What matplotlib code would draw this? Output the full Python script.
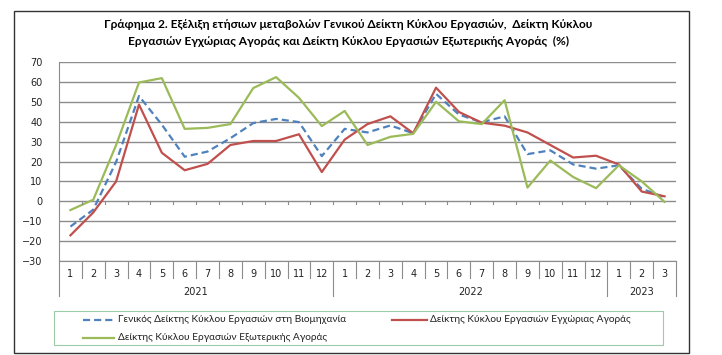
import numpy as np
import matplotlib
matplotlib.use("Agg")
import matplotlib.pyplot as plt
from matplotlib.patches import Rectangle
from matplotlib.lines import Line2D
import matplotlib.transforms as mtransforms

plt.rcParams['font.family'] = ['DejaVu Sans']

# δεδομένα (ετήσιες μεταβολές %)
months = ['1', '2', '3', '4', '5', '6', '7', '8', '9', '10', '11', '12',
          '1', '2', '3', '4', '5', '6', '7', '8', '9', '10', '11', '12',
          '1', '2', '3']
years = ['2021', '2022', '2023']
year_len = [12, 12, 3]

geniko = [-12.7, -4.2, 19.8, 52.9, 38.5, 22.4, 25.0, 31.7, 39.3, 41.4, 39.8, 22.7,
          36.4, 34.6, 38.1, 34.2, 54.0, 43.6, 39.7, 42.7, 23.7, 25.6, 18.5, 16.4,
          18.1, 6.3, 2.0]
eswteriki_agora = [-17.1, -5.6, 10.0, 48.6, 24.4, 15.6, 18.8, 28.3, 30.3, 30.3, 33.7, 14.7,
                   31.0, 38.8, 42.7, 34.2, 57.1, 44.9, 39.5, 38.0, 34.6, 28.3, 22.0, 22.9,
                   18.5, 4.9, 2.5]
exwteriki_agora = [-4.4, 0.8, 28.3, 59.7, 61.9, 36.4, 36.9, 38.8, 56.9, 62.4, 52.0, 37.8,
                   45.4, 28.3, 32.4, 33.9, 50.0, 40.2, 38.8, 50.8, 6.9, 20.5, 12.2, 6.6,
                   18.1, 10.0, -0.3]

labels = ['Γενικός Δείκτης Κύκλου Εργασιών στη Βιομηχανία',
          'Δείκτης Κύκλου Εργασιών Εγχώριας Αγοράς',
          'Δείκτης Κύκλου Εργασιών Εξωτερικής Αγοράς']
colors = ['#4F81BD', '#C0504D', '#9BBB59']
styles = [(0, (3.2, 1.8)), '-', '-']

W, H = 722, 355
fig = plt.figure(figsize=(W / 100, H / 100), dpi=100)

def px(x0, y0, x1, y1):
    return [x0 / W, 1 - y1 / H, (x1 - x0) / W, (y1 - y0) / H]

ax = fig.add_axes(px(59, 62, 676, 261))
x = np.arange(len(months))

for vals, c, ls in zip([geniko, eswteriki_agora, exwteriki_agora], colors, styles):
    ax.plot(x, vals, color=c, lw=1.6, ls=ls)

ax.set_xlim(-0.5, len(months) - 0.5)
ax.set_ylim(-30, 70)
ax.set_yticks(range(-30, 71, 10))
ax.tick_params(axis='y', length=0, labelsize=7, pad=12, colors='#222222')
ax.set_xticks([])
ax.grid(axis='y', color='#8C8C8C', lw=1)
ax.set_axisbelow(True)
for s in ['top', 'right']:
    ax.spines[s].set_visible(False)
ax.spines['left'].set_color('#8C8C8C')
ax.spines['bottom'].set_color('#8C8C8C')

# μικρές γραμμές στον άξονα του μηδενός
for b in np.arange(0.5, len(months) - 0.5, 1):
    ax.add_line(Line2D([b, b], [0, -1.3], color='#8C8C8C', lw=0.8))

# άξονας κατηγοριών σε δύο επίπεδα
tr = mtransforms.blended_transform_factory(ax.transData, ax.transAxes)
for i, m in enumerate(months):
    ax.text(i, -0.065, m, transform=tr, ha='center', va='center', fontsize=7, color='#222222')
year_edges = np.cumsum([0] + year_len) - 0.5
for b in np.arange(-0.5, len(months) + 0.5, 1):
    low = -0.178 if b in year_edges else -0.085
    ax.add_line(Line2D([b, b], [0, low], color='#8C8C8C', lw=0.8, transform=tr, clip_on=False))
for k, yr in enumerate(years):
    c = (year_edges[k] + year_edges[k + 1]) / 2
    ax.text(c, -0.156, yr, transform=tr, ha='center', va='center', fontsize=7, color='#222222')

title_font = ['Lato', 'DejaVu Sans']
fig.text(0.5 * (104 + 593) / W, 1 - 24 / H,
         'Γράφημα 2. Εξέλιξη ετήσιων μεταβολών Γενικού Δείκτη Κύκλου Εργασιών,  Δείκτη Κύκλου',
         ha='center', va='center', fontsize=8.6, fontweight='bold', family=title_font)
fig.text(0.5 * (104 + 593) / W, 1 - 41 / H,
         'Εργασιών Εγχώριας Αγοράς και Δείκτη Κύκλου Εργασιών Εξωτερικής Αγοράς  (%)',
         ha='center', va='center', fontsize=8.6, fontweight='bold', family=title_font)

# υπόμνημα
fig.patches.append(Rectangle((54 / W, 1 - 345 / H), (663 - 54) / W, (345 - 311) / H,
                             transform=fig.transFigure, fill=False, ec='#9BCCA8', lw=0.8))
leg_pos = [(83, 114, 118, 320), (392, 427, 430, 320), (83, 114, 118, 338)]
for (xa, xb, xt, yy), lab, c, ls in zip(leg_pos, labels, colors, styles):
    fig.add_artist(Line2D([xa / W, xb / W], [1 - yy / H, 1 - yy / H], color=c, lw=1.6, ls=ls,
                          transform=fig.transFigure))
    fig.text(xt / W, 1 - yy / H, lab, ha='left', va='center', fontsize=7.3,
             family=['Lato', 'DejaVu Sans'], color='#222222')

fig.patches.append(Rectangle((14 / W, 1 - 353 / H), (689 - 14) / W, (353 - 11) / H,
                             transform=fig.transFigure, fill=False, ec='#333333', lw=1))

fig.savefig('out.png', dpi=100)
